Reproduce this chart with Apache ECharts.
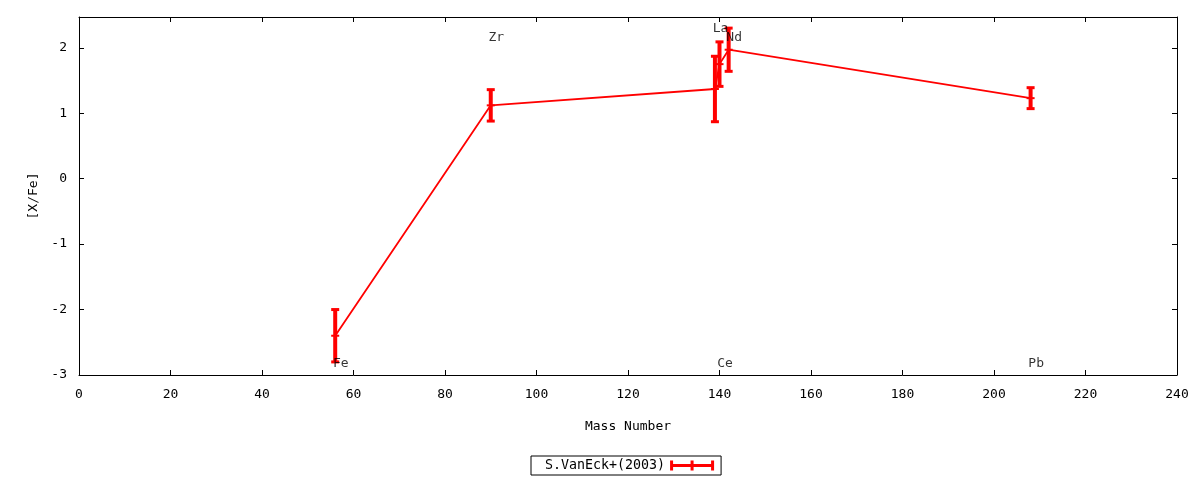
<!DOCTYPE html>
<html>
<head>
<meta charset="utf-8">
<script src="https://cdn.jsdelivr.net/npm/echarts@6/dist/echarts.min.js"></script>
<style>
  html, body { margin: 0; padding: 0; background: #fff; }
  #chart { width: 1200px; height: 480px; }
</style>
</head>
<body>
<div id="chart"></div>
<script>
// 数据
var massNumber = [56, 90, 139, 140, 142, 208];
var xFe = [-2.4, 1.12, 1.37, 1.75, 1.97, 1.23];
var xFeErr = [0.4, 0.24, 0.5, 0.34, 0.33, 0.16];

// 元素标注
var elemNames = ['Fe', 'Zr', 'La', 'Ce', 'Nd', 'Pb'];
var elemX = [55.5, 89.5, 138.5, 139.5, 141.5, 207.5];
var elemY = [-2.82, 2.15, 2.3, -2.82, 2.15, -2.82];

var font = 'DejaVu Sans Mono';
var red = '#ff0000';

var myChart = echarts.init(document.getElementById('chart'));

var lineData = massNumber.map(function (m, i) { return [m, xFe[i]]; });
var errData = massNumber.map(function (m, i) { return [m, xFe[i] - xFeErr[i], xFe[i] + xFeErr[i], xFe[i]]; });
var labelData = elemNames.map(function (n, i) { return { name: n, value: [elemX[i], elemY[i]] }; });

// 误差棒
function renderErr(params, api) {
    var lo = api.coord([api.value(0), api.value(1)]);
    var hi = api.coord([api.value(0), api.value(2)]);
    var mid = api.coord([api.value(0), api.value(3)]);
    var cap = 4;
    var capStyle = { stroke: red, lineWidth: 3 };
    return {
        type: 'group',
        children: [
            { type: 'line', shape: { x1: lo[0], y1: lo[1], x2: hi[0], y2: hi[1] }, style: { stroke: red, lineWidth: 4 } },
            { type: 'line', shape: { x1: lo[0] - cap, y1: lo[1], x2: lo[0] + cap, y2: lo[1] }, style: capStyle },
            { type: 'line', shape: { x1: hi[0] - cap, y1: hi[1], x2: hi[0] + cap, y2: hi[1] }, style: capStyle },
            { type: 'line', shape: { x1: mid[0] - cap, y1: mid[1], x2: mid[0] + cap, y2: mid[1] }, style: { stroke: red, lineWidth: 2 } }
        ]
    };
}

var axisLine = { show: true, onZero: false, lineStyle: { color: '#000', width: 1 } };
var tickIn = { show: true, inside: true, length: 5, lineStyle: { color: '#000' } };
var hideTop = function (v) { return v > 2.2 ? '' : String(v); };

myChart.setOption({
    animation: false,
    textStyle: { fontFamily: font },
    grid: { left: 79, right: 23, top: 17, bottom: 105, containLabel: false },
    legend: {
        bottom: 5,
        left: 531,
        align: 'right',
        padding: [3, 7, 3, 14],
        itemGap: 8,
        borderColor: '#000',
        borderWidth: 1,
        itemWidth: 44,
        itemHeight: 10,
        textStyle: { fontFamily: font, fontSize: 13.3, color: '#000' },
        data: [{
            name: 'S.VanEck+(2003)',
            icon: 'path://M0,0 L3,0 L3,3.5 L20.5,3.5 L20.5,0 L23.5,0 L23.5,3.5 L41,3.5 L41,0 L44,0 L44,10 L41,10 L41,6.5 L23.5,6.5 L23.5,10 L20.5,10 L20.5,6.5 L3,6.5 L3,10 L0,10 Z',
            itemStyle: { color: red }
        }]
    },
    xAxis: [{
        type: 'value', min: 0, max: 240, interval: 20,
        name: 'Mass Number', nameLocation: 'middle', nameGap: 45,
        nameTextStyle: { fontFamily: font, fontSize: 13, color: '#000' },
        axisLine: axisLine, axisTick: tickIn, splitLine: { show: false },
        axisLabel: { fontFamily: font, fontSize: 13, color: '#000', margin: 13 }
    }, {
        type: 'value', min: 0, max: 240, interval: 20, position: 'top',
        axisLine: axisLine, axisTick: tickIn, splitLine: { show: false },
        axisLabel: { show: false }
    }],
    yAxis: [{
        type: 'value', min: -3, max: 2.47, interval: 1,
        name: '[X/Fe]', nameLocation: 'middle', nameGap: 25, nameRotate: 90,
        nameTextStyle: { fontFamily: font, fontSize: 13, color: '#000' },
        axisLine: axisLine, axisTick: tickIn, splitLine: { show: false },
        axisLabel: { fontFamily: font, fontSize: 13, color: '#000', margin: 12, formatter: hideTop }
    }, {
        type: 'value', min: -3, max: 2.47, interval: 1, position: 'right',
        axisLine: axisLine, axisTick: tickIn, splitLine: { show: false },
        axisLabel: { show: false }
    }],
    series: [{
        name: 'S.VanEck+(2003)',
        type: 'line',
        data: lineData,
        symbol: 'none',
        lineStyle: { color: red, width: 1.8 },
        itemStyle: { color: red },
        z: 3
    }, {
        name: 'S.VanEck+(2003)',
        type: 'custom',
        data: errData,
        renderItem: renderErr,
        encode: { x: 0, y: [1, 2] },
        z: 4
    }, {
        type: 'scatter',
        data: labelData,
        symbolSize: 0,
        silent: true,
        label: {
            show: true,
            position: 'right',
            distance: 0,
            formatter: '{b}',
            fontFamily: font,
            fontSize: 13,
            color: '#000'
        },
        z: 5
    }]
});
</script>
</body>
</html>
